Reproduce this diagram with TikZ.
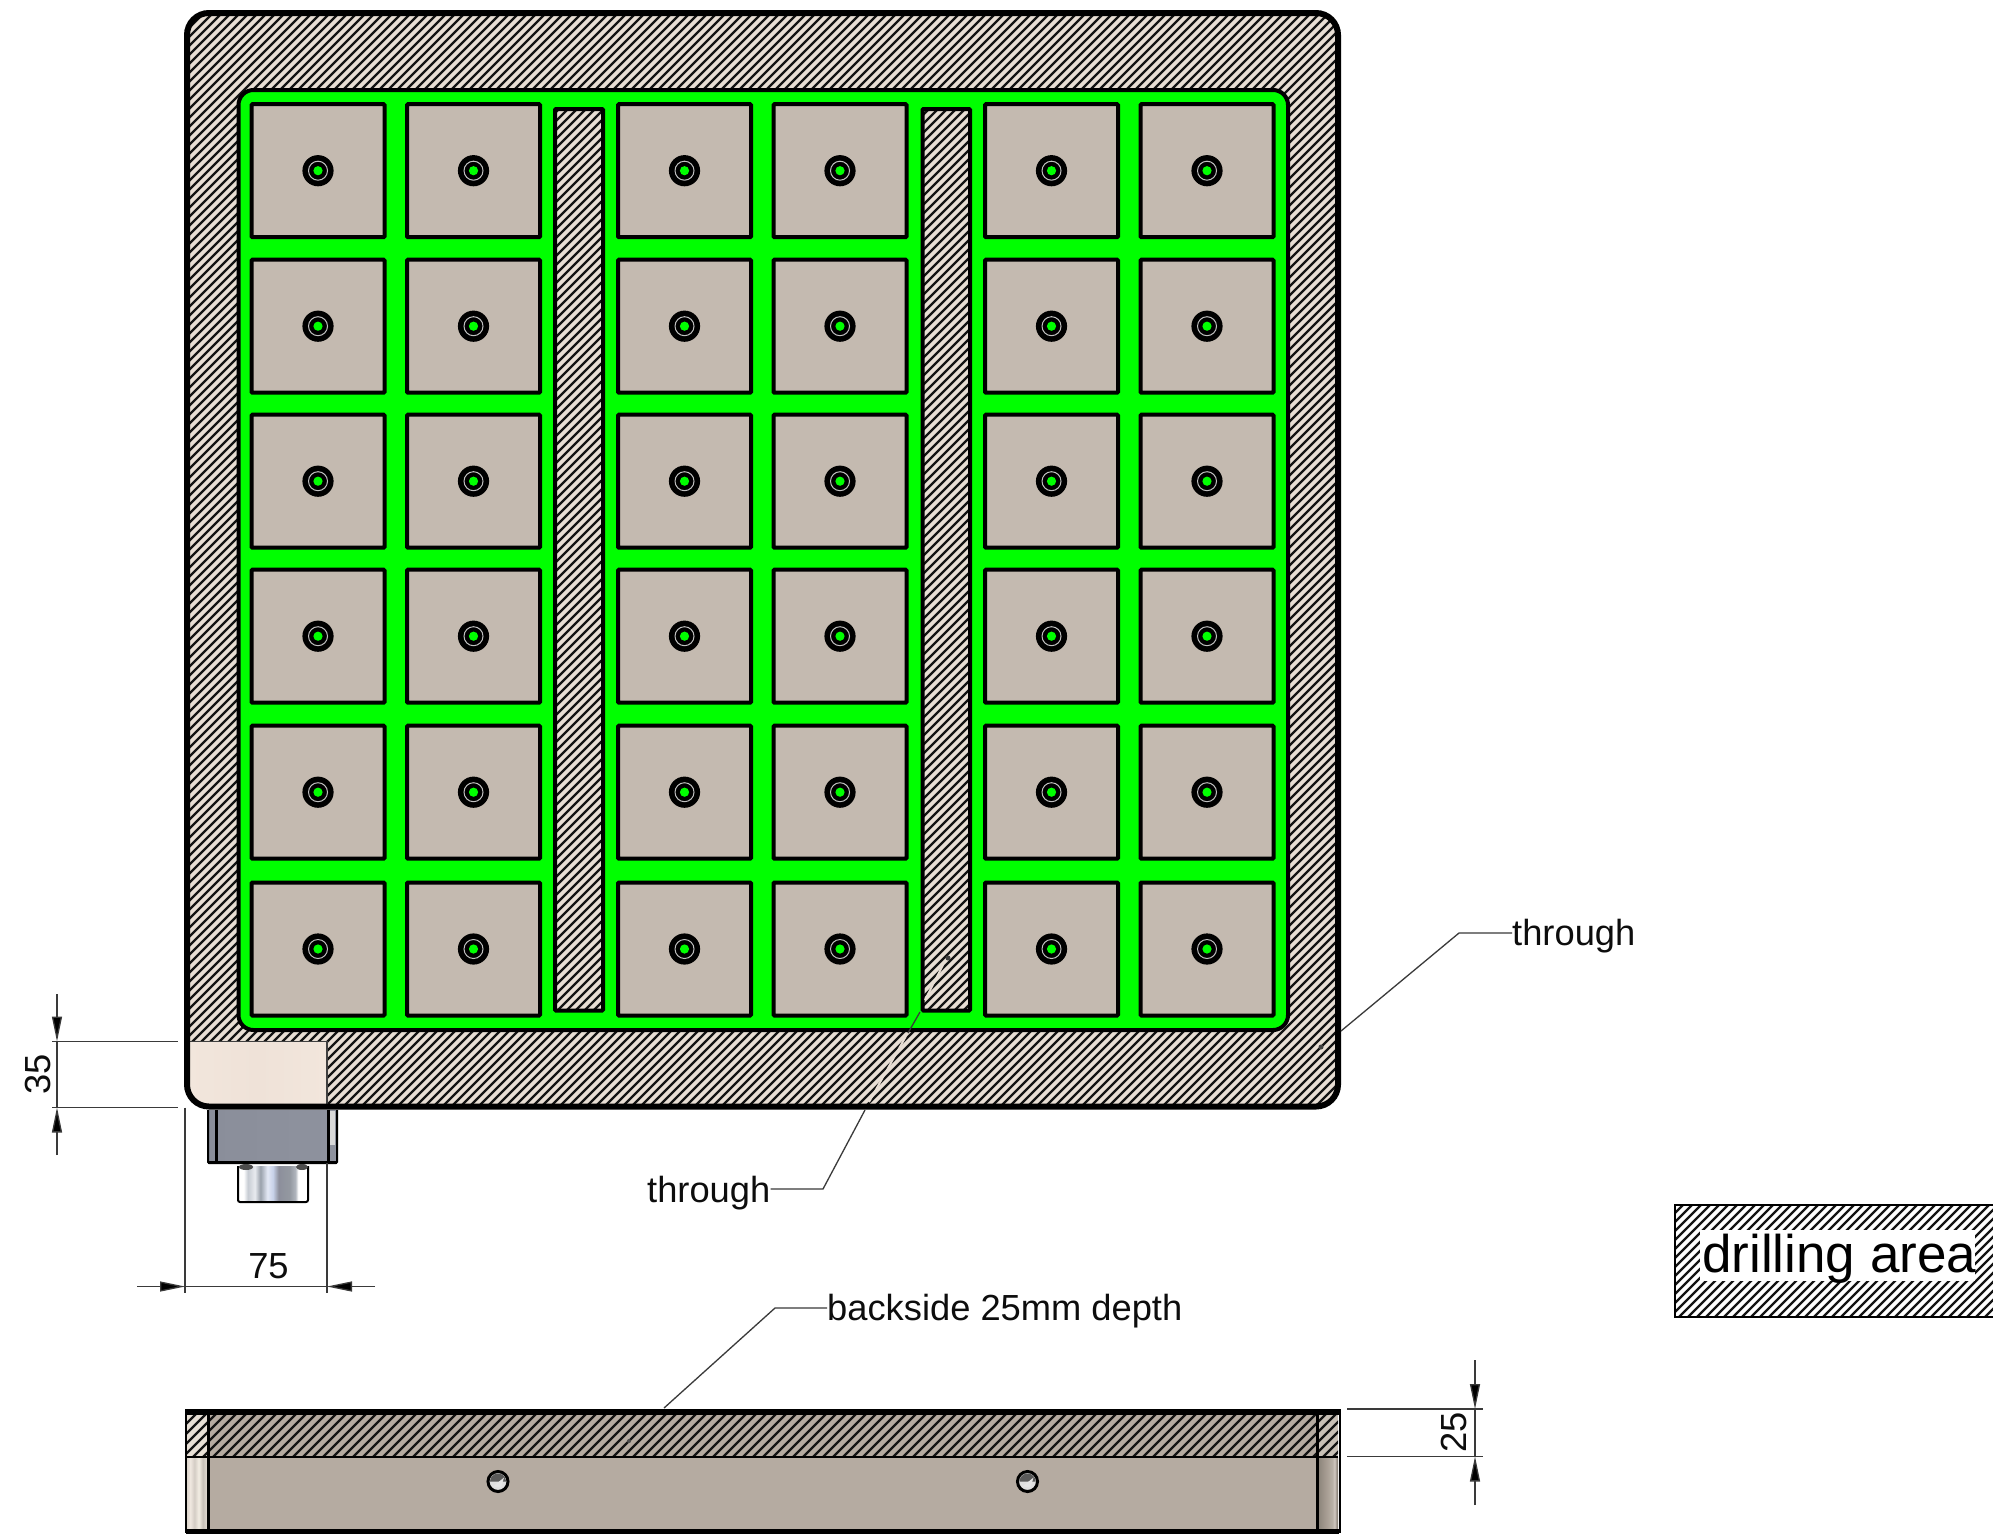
\documentclass[tikz,border=0pt]{standalone}
\usepackage{fontspec}
\setmainfont{Liberation Sans}
\usetikzlibrary{arrows.meta}
\definecolor{hbase}{HTML}{E8DED4}
\definecolor{padc}{HTML}{C4BAB0}
\definecolor{sidec}{HTML}{B5ABA1}
\definecolor{dimc}{HTML}{3A3A3A}
\definecolor{greenc}{HTML}{00FF00}
\definecolor{plateL}{HTML}{F2E6DC}
\definecolor{plateM}{HTML}{EFE2D8}
\definecolor{connL}{HTML}{8A8E9A}
\definecolor{connR}{HTML}{8E929E}
\definecolor{endL}{HTML}{E8E0D6}
\definecolor{endR}{HTML}{C8C0B6}
\pgfdeclarehorizontalshading{cylshade}{100bp}{rgb(0bp)=(1,1,1);rgb(25bp)=(1,1,1);rgb(29bp)=(1,1,1);rgb(32bp)=(.78,.8,.83);rgb(37bp)=(.91,.92,.94);rgb(41bp)=(.6,.63,.67);rgb(46bp)=(.89,.91,.96);rgb(50bp)=(.78,.82,.91);rgb(54bp)=(.55,.56,.61);rgb(62bp)=(.58,.6,.63);rgb(66bp)=(.69,.71,.74);rgb(68bp)=(1,1,1);rgb(75bp)=(1,1,1);rgb(100bp)=(1,1,1)}
\pgfdeclarehorizontalshading{leftstrip}{100bp}{rgb(0bp)=(.85,.82,.78);rgb(25bp)=(.85,.82,.78);rgb(35bp)=(.94,.91,.88);rgb(45bp)=(.83,.8,.77);rgb(55bp)=(.95,.93,.89);rgb(65bp)=(.78,.75,.72);rgb(75bp)=(.88,.85,.82);rgb(100bp)=(.88,.85,.82)}
\pgfdeclarehorizontalshading{rightstrip}{100bp}{rgb(0bp)=(.56,.53,.49);rgb(25bp)=(.56,.53,.49);rgb(45bp)=(.66,.62,.58);rgb(60bp)=(.72,.69,.65);rgb(66bp)=(.82,.78,.75);rgb(72bp)=(.56,.53,.49);rgb(75bp)=(.56,.53,.49);rgb(100bp)=(.56,.53,.49)}
\tikzset{
  x=1pt,y=-1pt,
  padbox/.style={draw=black,line width=4pt,fill=padc,rounded corners=1pt},
  slotbox/.style={draw=black,line width=4pt,rounded corners=1pt},
  dimline/.style={draw=dimc,line width=1.3pt},
  dimarrow/.style={draw=dimc,line width=1.3pt,-{Triangle[length=25pt,width=10pt,fill=black]}},
  leader/.style={draw=dimc,line width=1.3pt},
  lbl/.style={font=\fontsize{36.3}{40}\selectfont,text=black!95,inner sep=0pt},
}
\newcommand{\hatchrange}[4]{\foreach \c in {#1,#2,...,#3}{\draw[line width=#4,black!92] (\c,0) -- (\c-1600,1600);}}
\newcommand{\hole}[2]{%
  \fill[black] (#1,#2) circle[radius=15.6];
  \draw[draw=black!25!white,line width=1pt] (#1,#2) circle[radius=9.5];
  \fill[greenc] (#1,#2) circle[radius=4.6];}
\begin{document}
\begin{tikzpicture}
\useasboundingbox (0,0) rectangle (1993,1534);
\fill[white] (0,0) rectangle (1993,1534);

% main plate
\fill[hbase,rounded corners=22pt] (187,13) rectangle (1338,1106.5);
\begin{scope}
  \clip[rounded corners=22pt] (187,13) rectangle (1338,1106.5);
  \hatchrange{190}{199}{2450}{2.4pt}
  \fill[left color=plateL,right color=plateL,middle color=plateM] (187,1042) rectangle (327,1108);
\end{scope}
\draw[black!75,line width=1.5pt] (187,1041.5) -- (327,1041.5) -- (327,1106);
\draw[black,line width=6pt,rounded corners=22pt] (187,13) rectangle (1338,1106.5);

% pocket
\fill[greenc,draw=black,line width=4pt,rounded corners=15pt] (238.5,90) rectangle (1288,1030);

% slots
\foreach \sa/\sb/\ca/\cb in {555/603/650/1620,922.5/970/1020/1990}{
  \fill[hbase] (\sa,109) rectangle (\sb,1010.5);
  \begin{scope}
    \clip (\sa,109) rectangle (\sb,1010.5);
    \hatchrange{\ca}{\the\numexpr\ca+9\relax}{\cb}{2.4pt}
  \end{scope}
  \draw[slotbox] (\sa,109) rectangle (\sb,1010.5);
}

% pads and holes
\foreach \cx in {318,473.5,684.5,840,1051.5,1207}{
  \foreach \cy in {170.7,326.2,481.2,636.2,792.2,949}{
    \draw[padbox] (\cx-66.5,\cy-66.5) rectangle (\cx+66.5,\cy+66.5);
    \hole{\cx}{\cy}
  }
}

% connector
\fill[left color=connL,right color=connR] (208,1110) rectangle (337,1163);
\draw[black,line width=2pt,rounded corners=1pt] (208,1110) -- (208,1163) -- (337,1163) -- (337,1110);
\draw[black,line width=3pt] (216,1110) -- (216,1163);
\draw[black,line width=3pt] (328,1110) -- (328,1163);
\draw[black,line width=3pt] (208,1162.5) -- (337,1162.5);
\fill[white!70!gray] (330,1111) rectangle (335,1145);
\shade[shading=cylshade] (238,1166) rectangle (308,1201);
\draw[black,line width=2pt,rounded corners=2pt] (238,1166) -- (238,1202) -- (308,1202) -- (308,1166);
\fill[black!70] (246,1167) ellipse[x radius=7,y radius=3];
\fill[black!70] (302,1167) ellipse[x radius=6,y radius=3];

% dimension 35
\coordinate (d35a) at (57,994);
\coordinate (d35b) at (57,1041.5);
\coordinate (d35c) at (57,1107.5);
\coordinate (d35d) at (57,1155);
\draw[dimline] (d35b) -- (d35c);
\draw[dimarrow] (d35a) -- (d35b);
\draw[dimarrow] (d35d) -- (d35c);
\draw[dimline] (52,1041.5) -- (178,1041.5);
\draw[dimline] (52,1107.5) -- (178,1107.5);
\node[lbl,rotate=90] (t35) at (38,1074.5) {35};

% dimension 75
\coordinate (d75a) at (137,1286.5);
\coordinate (d75b) at (185,1286.5);
\coordinate (d75c) at (327,1286.5);
\coordinate (d75d) at (375,1286.5);
\draw[dimline] (d75b) -- (d75c);
\draw[dimarrow] (d75a) -- (d75b);
\draw[dimarrow] (d75d) -- (d75c);
\draw[dimline] (185,1107.5) -- (185,1293);
\draw[dimline] (327,1163) -- (327,1293);
\node[lbl] (t75) at (268.5,1266) {75};

% through right
\node[lbl,anchor=base west] (thr1) at (1512,945) {through};
\coordinate (l1a) at (1459,933);
\coordinate (l1b) at (1341,1031);
\coordinate (l1c) at (1321,1047);
\draw[leader] (thr1.west |- l1a) -- (l1a) -- (l1b);
\fill[black!75] (l1c) circle[radius=2.5];

% through lower
\node[lbl,anchor=base east] (thr2) at (770.5,1202) {through};
\coordinate (l2a) at (823,1189);
\coordinate (l2b) at (865,1110);
\coordinate (l2c) at (908,1033);
\coordinate (l2d) at (920,1012);
\coordinate (l2e) at (948,958);
\draw[leader] (thr2.east |- l2a) -- (l2a) -- (l2b);
\draw[hbase,line width=2pt] (869,1102) -- (906,1036);
\draw[dimc,line width=1.3pt] (l2c) -- (l2d);
\draw[hbase,line width=2pt] (925,1000) -- (943,965);
\fill[black!75] (l2e) circle[radius=2.5];

% side view
\fill[sidec] (186,1409) rectangle (1338,1533);
\shade[shading=leftstrip] (186,1457) rectangle (207,1531);
\shade[shading=rightstrip] (1319,1457) rectangle (1338,1531);
\begin{scope}
  \fill[endL] (186,1412) rectangle (207,1457);
  \fill[endR] (1319,1412) rectangle (1338,1457);
  \clip (186,1412) rectangle (1338,1457);
  \hatchrange{1600}{1610}{2800}{2.4pt}
\end{scope}
\draw[black,line width=1.5pt] (186,1457) -- (1338,1457);
\draw[black,line width=3pt] (208,1410) -- (208,1531);
\draw[black,line width=3pt] (1317,1410) -- (1317,1531);
\draw[black,line width=6pt] (186,1411.5) -- (1339,1411.5);
\draw[black,line width=5pt] (186,1531.5) -- (1339,1531.5);
\draw[black,line width=2pt] (186,1409) -- (186,1533);
\draw[black,line width=2pt] (1339.5,1409) -- (1339.5,1533);
\foreach \hx in {498,1027.5}{
  \fill[white!75!gray,draw=black,line width=3pt] (\hx,1481.5) circle[radius=10];
  \fill[black!65] (\hx-8,1481.5) arc[start angle=180,end angle=360,radius=8] -- cycle;
  \fill[white!80!gray] (\hx-5,1486.5) -- (\hx+6,1477.5) -- (\hx+3,1487.5) -- cycle;
}
\fill[black!70] (629,1441) circle[radius=2];

% backside leader
\node[lbl,anchor=base west] (back) at (827,1320.5) {backside 25mm depth};
\coordinate (l3a) at (775,1308);
\coordinate (l3b) at (664,1408);
\draw[leader] (back.west |- l3a) -- (l3a) -- (l3b);

% dimension 25
\coordinate (d25a) at (1475,1360);
\coordinate (d25b) at (1475,1409);
\coordinate (d25c) at (1475,1456.5);
\coordinate (d25d) at (1475,1505);
\draw[dimline] (d25b) -- (d25c);
\draw[dimarrow] (d25a) -- (d25b);
\draw[dimarrow] (d25d) -- (d25c);
\draw[dimline] (1347,1409) -- (1483,1409);
\draw[dimline] (1347,1456.5) -- (1483,1456.5);
\node[lbl,rotate=90] (t25) at (1454,1432.5) {25};

% legend
\begin{scope}
  \clip (1674,1204) rectangle (1993,1317);
  \hatchrange{2870}{2879}{3320}{2.2pt}
\end{scope}
\draw[black,line width=2pt] (1993,1205) -- (1675,1205) -- (1675,1316.5) -- (1993,1316.5);
\node[fill=white,minimum width=275pt,minimum height=51pt,inner sep=0pt,anchor=center] (legendbg) at (1837.5,1255.5) {};
\node[anchor=base west,inner sep=0pt,font=\fontsize{53}{56}\selectfont,text=black] (legend) at (1702,1272.5) {drilling area};
\end{tikzpicture}
\end{document}
